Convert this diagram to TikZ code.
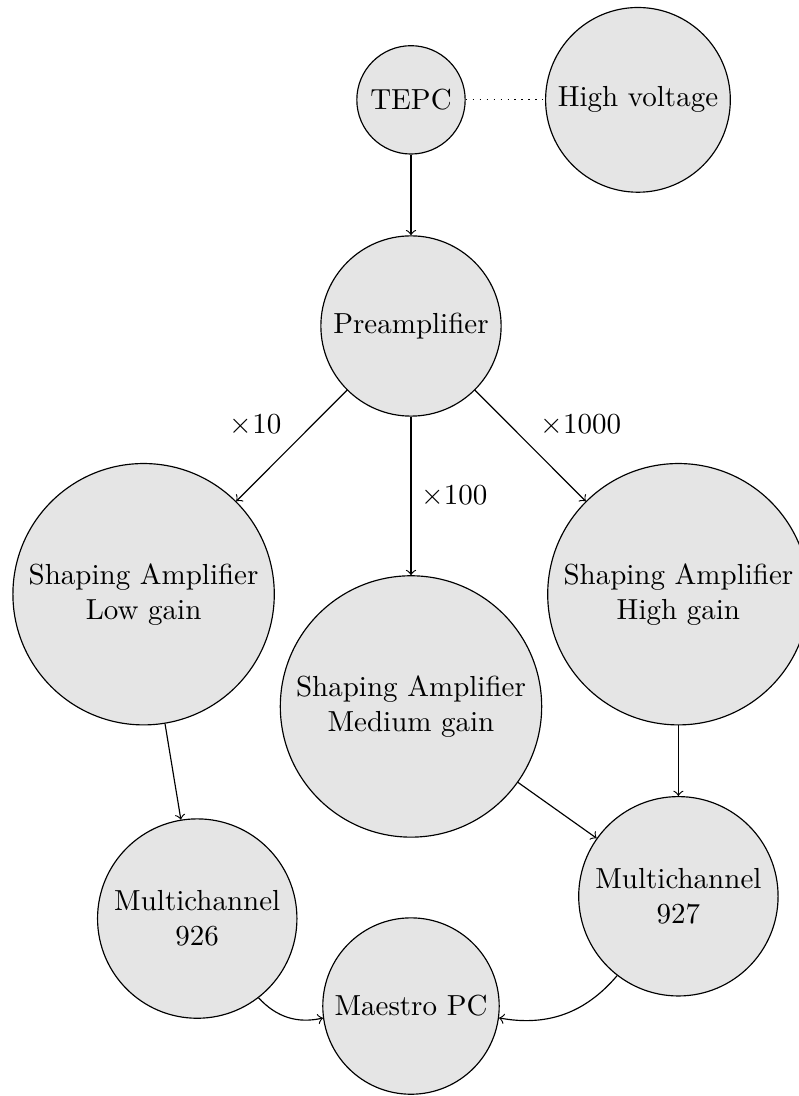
\documentclass[tikz,border=0pt]{standalone}
\usepackage{amsmath,amssymb}
\usetikzlibrary{arrows}

\begin{document}
\begin{tikzpicture}[unit/.style={circle, draw, fill=gray!20, align=center}]
        \useasboundingbox (-4.98, 1.21) rectangle (4.69, -12.07);

        \node[unit] (tepc) at (0, 0) {TEPC};
        \node[unit] (hv) at (2.75, 0) {High voltage};
        \node[unit] (pre) at (0, -2.74) {Preamplifier};

        \node[unit] (low) at (-3.24, -5.99) {Shaping Amplifier\\Low gain};
        \node[unit] (med) at (0, -7.35) {Shaping Amplifier\\Medium gain};
        \node[unit] (high) at (3.24, -5.99) {Shaping Amplifier\\High gain};

        \node[unit] (mca926) at (-2.59, -9.92) {Multichannel\\926};
        \node[unit] (mca927) at (3.24, -9.65) {Multichannel\\927};
        \node[unit] (pc) at (0, -10.98) {Maestro PC};

        \draw[dotted] (tepc) -- (hv);
        \draw[->] (tepc) -- (pre);

        \draw[->] (pre) -- (low) node[midway, above left] {$\times10$};
        \draw[->] (pre) -- (med) node[midway, right] {$\times100$};
        \draw[->] (pre) -- (high) node[midway, above right] {$\times1000$};

        \draw[->] (low) -- (mca926);
        \draw[->] (med) -- (mca927);
        \draw[->] (high) -- (mca927);

        \draw[->] (mca926) to[bend right] (pc);
        \draw[->] (mca927) to[bend left] (pc);

    \end{tikzpicture}
\end{document}
